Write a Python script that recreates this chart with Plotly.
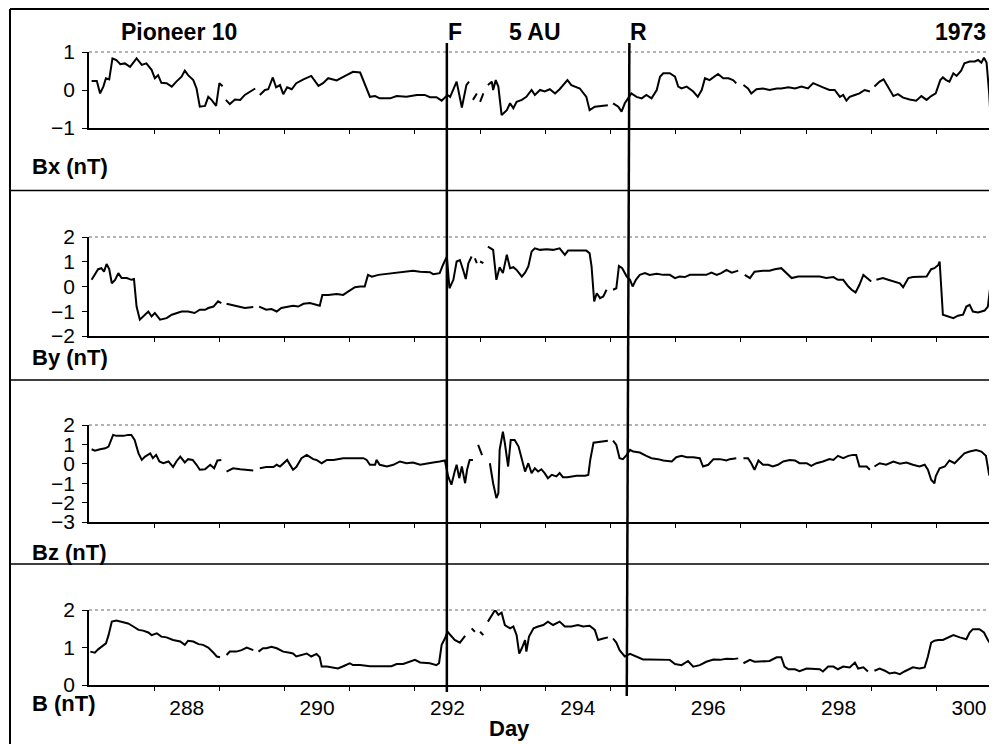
import plotly.graph_objects as go

# ---------------- data ----------------
N = None
day_bx = [286.54,286.62,286.67,286.72,286.76,286.81,286.86,286.92,286.98,287.05,287.13,287.23,287.31,287.38,287.46,287.51,287.56,287.61,287.69,287.77,287.84,287.92,287.97,288.02,288.10,288.15,288.20,288.28,288.33,288.38,288.45,288.50,288.55,
          288.575,
          288.60,288.66,288.74,288.82,288.89,288.97,289.05,
          289.085,
          289.12,289.20,289.25,289.32,289.37,289.43,289.48,289.54,289.61,289.68,289.79,289.91,290.02,290.09,290.17,290.30,290.43,290.55,290.66,290.73,290.81,290.89,290.96,291.12,291.22,291.37,291.53,291.65,291.73,291.83,291.91,292.00,292.04,292.14,292.22,292.29,292.33,
          292.36,
          292.39,292.45,
          292.475,
          292.50,292.55,
          292.585,
          292.62,292.68,292.70,292.74,292.78,292.83,292.91,292.96,293.01,293.06,293.14,293.21,293.29,293.34,293.42,293.49,293.57,293.65,293.72,293.80,293.84,293.90,294.03,294.13,294.18,294.26,294.46,
          294.50,
          294.54,294.62,294.67,294.72,294.77,294.82,294.90,294.98,295.05,295.13,295.21,295.26,295.31,295.41,295.49,295.54,295.59,295.67,295.77,295.84,295.90,295.95,296.02,296.10,296.15,296.23,296.31,296.38,296.43,
          296.48,
          296.54,296.61,296.66,296.74,296.84,296.94,297.05,297.12,297.23,297.33,297.43,297.53,297.61,297.69,297.76,297.86,297.94,298.02,298.07,298.12,298.17,298.25,298.32,298.40,298.48,
          298.52,
          298.55,298.63,298.69,298.76,298.84,298.91,298.99,299.09,299.19,299.27,299.35,299.42,299.49,299.56,299.60,299.65,299.70,299.76,299.81,299.88,299.93,300.01,300.09,300.14,300.19,300.23,300.27,300.31,300.33,300.37,300.39,300.43]
bx = [0.24,0.24,-0.09,0.09,0.31,0.28,0.83,0.79,0.68,0.70,0.61,0.83,0.66,0.70,0.53,0.31,0.39,0.19,0.18,0.09,0.22,0.35,0.51,0.39,0.26,0.04,-0.44,-0.42,-0.18,-0.26,-0.42,0.18,0.10,
      N,
      -0.26,-0.37,-0.25,-0.26,-0.13,-0.04,0.04,
      N,
      -0.13,0.0,0.02,0.33,0.07,0.13,-0.11,0.07,0.02,0.18,0.28,0.37,0.11,0.18,0.31,0.25,0.37,0.48,0.46,0.18,-0.18,-0.16,-0.22,-0.22,-0.16,-0.18,-0.13,-0.13,-0.19,-0.19,-0.28,-0.13,-0.18,0.22,-0.46,0.13,0.22,
      N,
      -0.26,-0.09,
      N,
      -0.31,-0.09,
      N,
      0.13,0.22,0.0,0.26,0.09,-0.66,-0.53,-0.35,-0.48,-0.31,-0.26,-0.18,0.0,-0.13,0.0,-0.04,0.02,-0.09,0.02,0.18,0.26,0.13,0.04,-0.18,-0.53,-0.44,-0.40,
      N,
      -0.35,-0.44,-0.57,-0.35,-0.22,-0.09,-0.18,-0.22,-0.13,-0.22,0.0,0.35,0.44,0.44,0.35,0.09,0.04,0.09,-0.04,-0.18,0.0,0.31,0.26,0.35,0.42,0.31,0.31,0.26,0.18,
      N,
      0.13,0.04,-0.09,0.02,0.04,0.0,0.04,0.04,0.07,0.04,0.09,0.04,0.18,0.11,0.07,0.0,0.0,-0.18,-0.13,-0.28,-0.18,-0.13,-0.09,0.0,-0.04,
      N,
      0.09,0.22,0.28,0.07,-0.16,-0.11,-0.20,-0.25,-0.28,-0.16,-0.26,-0.16,-0.09,0.26,0.33,0.26,0.22,0.44,0.37,0.51,0.70,0.75,0.75,0.79,0.72,0.85,0.72,-0.09,-0.70,-0.70,-0.44,-0.37]

day_by = [286.54,286.59,286.64,286.69,286.73,286.77,286.81,286.85,286.90,286.95,287.00,287.08,287.15,287.19,287.23,287.28,287.36,287.41,287.46,287.51,287.59,287.69,287.77,287.84,287.92,288.02,288.12,288.20,288.28,288.33,288.41,288.48,288.53,
          288.57,
          288.61,288.69,288.76,288.82,288.89,289.02,
          289.06,
          289.11,289.22,289.30,289.38,289.45,289.53,289.63,289.71,289.79,289.89,289.97,290.04,290.08,290.17,290.30,290.40,290.48,290.58,290.66,290.73,290.78,290.84,290.94,291.07,291.22,291.32,291.47,291.58,291.73,291.78,291.88,291.93,291.99,292.03,292.09,292.14,292.19,292.24,292.28,292.32,292.37,
          292.395,
          292.42,292.45,
          292.475,
          292.50,292.55,
          292.585,
          292.62,292.70,292.75,292.80,292.85,292.91,292.96,293.01,293.06,293.14,293.19,293.24,293.29,293.34,293.42,293.52,293.62,293.72,293.80,293.85,293.98,294.13,294.18,294.21,294.25,294.29,294.34,294.39,294.44,
          294.49,
          294.54,294.59,294.63,294.68,294.75,294.80,294.84,294.89,294.95,295.03,295.10,295.21,295.31,295.41,295.49,295.56,295.64,295.72,295.87,295.97,296.05,296.13,296.20,296.28,296.36,296.46,
          296.51,
          296.56,296.64,296.71,296.84,296.94,297.02,297.12,297.20,297.28,297.38,297.51,297.61,297.71,297.81,297.92,297.99,298.07,298.15,298.20,298.26,298.32,298.38,298.43,298.50,
          298.54,
          298.58,298.68,298.76,298.84,298.94,298.99,299.07,299.14,299.24,299.35,299.42,299.47,299.53,299.55,299.60,299.68,299.76,299.83,299.91,299.96,300.01,300.06,300.14,300.24,300.29,300.33,300.37,300.39,300.43]
by = [0.27,0.47,0.70,0.74,0.60,0.91,0.70,0.13,0.27,0.54,0.34,0.34,0.27,0.30,-0.81,-1.34,-1.14,-1.01,-1.21,-1.07,-1.34,-1.28,-1.14,-1.07,-1.01,-1.01,-1.07,-0.94,-0.94,-0.87,-0.81,-0.60,-0.67,
      N,
      -0.70,-0.74,-0.78,-0.81,-0.87,-0.83,
      N,
      -0.81,-0.94,-0.91,-1.01,-0.87,-0.83,-0.78,-0.81,-0.70,-0.67,-0.74,-0.78,-0.34,-0.34,-0.30,-0.34,-0.20,-0.03,0.0,0.0,0.47,0.40,0.47,0.51,0.54,0.60,0.64,0.60,0.58,0.50,0.54,0.87,1.21,-0.07,0.27,1.01,1.07,0.67,0.30,0.94,1.21,
      N,
      1.14,0.94,
      N,
      1.01,0.94,
      N,
      1.61,1.48,0.27,0.78,0.54,1.28,0.74,0.78,0.67,0.40,0.56,0.81,1.41,1.54,1.48,1.50,1.48,1.54,1.28,1.45,1.45,1.45,1.34,0.81,-0.60,-0.27,-0.47,-0.40,-0.13,
      N,
      -0.13,-0.07,0.83,0.74,0.40,0.27,0.0,0.27,0.47,0.54,0.47,0.51,0.47,0.47,0.34,0.40,0.38,0.47,0.47,0.47,0.56,0.47,0.54,0.67,0.56,0.64,
      N,
      0.47,0.34,0.60,0.64,0.64,0.70,0.74,0.54,0.34,0.40,0.40,0.38,0.40,0.34,0.38,0.27,0.27,0.0,-0.13,-0.24,0.07,0.47,0.34,0.20,
      N,
      0.27,0.34,0.27,0.20,0.13,-0.03,0.34,0.38,0.40,0.40,0.70,0.74,0.87,1.01,-1.14,-1.21,-1.28,-1.18,-1.14,-0.81,-0.74,-1.01,-1.05,-0.97,-0.81,0.07,-0.27,-0.87,-0.91]

day_bz = [286.54,286.59,286.67,286.75,286.80,286.83,286.87,286.92,287.03,287.10,287.15,287.20,287.26,287.31,287.36,287.44,287.48,287.53,287.58,287.64,287.72,287.79,287.84,287.90,287.97,288.02,288.09,288.15,288.20,288.28,288.36,288.42,288.47,288.53,
          288.57,
          288.61,288.71,288.82,288.92,289.02,
          289.07,
          289.12,289.22,289.33,289.38,289.43,289.48,289.54,289.63,289.68,289.76,289.84,289.94,289.99,290.07,290.15,290.25,290.40,290.55,290.71,290.76,290.81,290.89,290.91,290.96,291.07,291.17,291.27,291.37,291.47,291.58,291.68,291.78,291.88,291.96,292.01,292.06,292.11,292.14,292.18,292.22,292.27,292.30,292.34,292.39,
          292.43,
          292.47,292.53,
          292.59,
          292.65,292.70,292.75,292.78,292.80,292.85,292.88,292.93,292.97,293.03,293.09,293.14,293.19,293.24,293.29,293.34,293.39,293.44,293.49,293.54,293.60,293.67,293.72,293.77,293.84,293.98,294.11,294.16,294.19,294.24,294.34,294.46,
          294.50,
          294.54,294.59,294.64,294.69,294.75,294.80,294.85,294.95,295.05,295.13,295.23,295.31,295.44,295.51,295.59,295.67,295.77,295.87,295.92,296.00,296.08,296.18,296.28,296.33,296.43,
          296.48,
          296.54,296.61,296.66,296.71,296.77,296.84,296.92,296.99,297.07,297.15,297.25,297.33,297.40,297.51,297.58,297.66,297.76,297.86,297.92,297.99,298.07,298.15,298.22,298.27,298.32,298.38,298.43,298.48,
          298.52,
          298.55,298.63,298.73,298.84,298.94,299.04,299.14,299.24,299.32,299.37,299.42,299.47,299.49,299.55,299.63,299.70,299.78,299.86,299.93,300.01,300.11,300.19,300.26,300.31,300.36,300.39,300.43]
bz = [0.75,0.68,0.75,0.80,0.89,1.14,1.49,1.44,1.44,1.49,1.49,1.23,0.54,0.20,0.37,0.54,0.29,0.46,0.12,0.03,0.12,-0.17,0.12,0.37,0.07,0.24,0.20,-0.05,-0.31,-0.28,-0.05,-0.23,0.17,0.20,
      N,
      -0.40,-0.23,-0.28,-0.31,-0.35,
      N,
      -0.23,-0.17,-0.17,-0.05,-0.14,0.03,0.20,-0.31,-0.17,0.29,0.46,0.24,0.20,0.03,0.20,0.20,0.29,0.29,0.29,0.20,-0.05,-0.05,0.20,-0.05,-0.14,-0.05,0.12,0.03,0.07,-0.05,0.03,0.07,0.12,0.17,-0.65,-1.08,-0.40,-0.05,-0.74,-0.14,-1.00,-0.31,0.20,0.20,
      N,
      0.97,0.45,
      N,
      0.03,-1.00,-1.77,-1.52,0.72,1.66,1.06,-0.14,1.23,1.23,0.89,0.29,-0.40,0.03,-0.48,-0.23,-0.40,-0.28,-0.48,-0.74,-0.57,-0.65,-0.48,-0.69,-0.69,-0.62,-0.62,-0.57,0.20,1.09,1.14,1.19,
      N,
      1.19,0.97,0.29,0.24,0.46,0.72,0.63,0.58,0.41,0.29,0.24,0.17,0.12,0.34,0.41,0.34,0.34,0.29,-0.14,-0.05,0.24,0.24,0.17,0.24,0.29,
      N,
      0.29,0.29,0.03,-0.31,0.17,-0.05,-0.05,-0.14,-0.05,0.12,0.20,0.17,0.03,0.03,-0.11,0.03,0.12,0.24,0.20,0.41,0.29,0.41,0.46,0.46,-0.14,-0.14,-0.14,-0.31,
      N,
      -0.14,0.03,-0.05,0.12,0.0,0.07,-0.05,-0.14,-0.05,-0.31,-0.82,-1.00,-0.65,-0.23,-0.14,0.17,0.03,0.29,0.54,0.63,0.71,0.63,0.41,-0.57,-0.62,-0.31,-0.05]

day_b = [286.52,286.59,286.64,286.69,286.76,286.80,286.85,286.92,287.00,287.10,287.18,287.26,287.33,287.41,287.46,287.54,287.61,287.69,287.79,287.90,287.97,288.02,288.10,288.18,288.25,288.33,288.41,288.46,288.51,
         288.56,
         288.61,288.66,288.76,288.84,288.92,288.99,289.02,
         289.06,
         289.10,289.17,289.22,289.30,289.38,289.48,289.58,289.63,289.68,289.76,289.84,289.91,289.99,290.04,290.07,290.15,290.25,290.32,290.40,290.50,290.55,290.66,290.81,290.91,291.01,291.14,291.22,291.32,291.42,291.50,291.58,291.73,291.83,291.87,291.91,291.96,292.00,292.04,292.11,292.19,292.27,
         292.32,
         292.37,292.42,
         292.46,
         292.50,292.55,
         292.585,
         292.62,292.70,292.73,292.78,292.83,292.88,292.96,293.01,293.06,293.10,293.14,293.19,293.21,293.25,293.32,293.39,293.47,293.54,293.62,293.72,293.80,293.90,294.00,294.08,294.18,294.26,294.31,294.39,294.46,
         294.50,
         294.54,294.59,294.64,294.72,294.80,294.90,295.00,295.10,295.26,295.41,295.49,295.59,295.69,295.77,295.87,295.97,296.08,296.18,296.28,296.38,296.46,
         296.50,
         296.54,296.64,296.71,296.82,296.94,297.05,297.12,297.17,297.23,297.33,297.40,297.51,297.61,297.71,297.76,297.84,297.92,297.99,298.07,298.17,298.25,298.30,298.38,298.45,
         298.50,
         298.55,298.63,298.71,298.78,298.86,298.94,299.01,299.09,299.14,299.24,299.32,299.37,299.42,299.47,299.53,299.60,299.68,299.76,299.86,299.96,300.01,300.06,300.16,300.23,300.29,300.34,300.38,300.43]
b = [0.89,0.86,0.95,1.02,1.11,1.33,1.69,1.72,1.69,1.64,1.56,1.47,1.45,1.40,1.33,1.38,1.29,1.27,1.20,1.16,1.07,1.18,1.16,1.09,1.07,1.00,0.86,0.76,0.74,
     N,
     0.80,0.89,0.89,0.93,1.00,0.95,0.93,
     N,
     0.89,0.98,0.98,1.02,0.98,0.89,0.86,0.84,0.76,0.80,0.84,0.76,0.83,0.74,0.49,0.49,0.47,0.44,0.50,0.58,0.53,0.53,0.50,0.49,0.50,0.50,0.56,0.56,0.62,0.67,0.60,0.58,0.53,0.58,1.07,1.24,1.42,1.33,1.20,1.13,1.31,
     N,
     1.51,1.42,
     N,
     1.42,1.33,
     N,
     1.69,1.91,2.00,1.87,1.93,1.60,1.51,1.56,1.33,0.84,0.98,1.20,0.89,1.29,1.51,1.56,1.60,1.69,1.60,1.69,1.56,1.56,1.60,1.56,1.58,1.47,1.20,1.24,1.27,
     N,
     1.24,1.13,0.93,0.76,0.83,0.76,0.68,0.68,0.68,0.67,0.56,0.53,0.64,0.49,0.53,0.62,0.68,0.67,0.70,0.69,0.71,
     N,
     0.58,0.67,0.62,0.62,0.64,0.74,0.74,0.49,0.42,0.42,0.37,0.44,0.44,0.42,0.36,0.49,0.49,0.42,0.49,0.47,0.60,0.44,0.47,0.36,
     N,
     0.38,0.44,0.38,0.31,0.33,0.29,0.36,0.44,0.47,0.44,0.47,0.76,1.13,1.18,1.20,1.20,1.27,1.33,1.27,1.22,1.40,1.49,1.49,1.40,1.20,1.07,1.13,1.04]

panel_titles = ["Bx (nT)", "By (nT)", "Bz (nT)", "B (nT)"]
y_ranges = [[-1, 1], [-2, 2], [-3, 2], [0, 2]]
y_ticks = [[-1, 0, 1], [-2, -1, 0, 1, 2], [-3, -2, -1, 0, 1, 2], [0, 1, 2]]
x_range = [286.5, 300.43]
x_label_days = [288, 290, 292, 294, 296, 298, 300]
x_tick_days = [287.5, 288.5, 289.5, 290.5, 291.5, 292.5, 293.5, 294.5, 295.5, 296.5, 297.5, 298.5, 299.5]
F_DAY = 291.99
R_DAY_TOP, R_DAY_BOT = 294.79, 294.75

# ---------------- figure ----------------
# the page body adds an 8 px offset; the figure is sized so that it fills the window
OFF = 8
W, H = 997 - OFF, 744 - OFF
def px(x): return (x - OFF) / W
def py(y): return 1 - (y - OFF) / H

FONT = "Liberation Sans, Arial, Helvetica, sans-serif"
boxes = [(52, 128), (237, 336), (425, 522), (610, 685)]   # panel (top, bottom) in window pixels
X0 = 89

fig = go.Figure()
series = [(day_bx, bx), (day_by, by), (day_bz, bz), (day_b, b)]
for i, (d, v) in enumerate(series):
    sfx = "" if i == 0 else str(i + 1)
    fig.add_trace(go.Scatter(x=d, y=v, mode="lines", connectgaps=False,
                             line=dict(color="black", width=2),
                             xaxis="x" + sfx, yaxis="y" + sfx,
                             hoverinfo="skip", showlegend=False))

layout = dict(width=W, height=H, margin=dict(l=0, r=0, t=0, b=0, pad=0, autoexpand=False),
              paper_bgcolor="white", plot_bgcolor="white",
              font=dict(family=FONT, color="black"), showlegend=False)
shapes = []
for i, (top, bot) in enumerate(boxes):
    sfx = "" if i == 0 else str(i + 1)
    last = (i == 3)
    layout["xaxis" + sfx] = dict(
        domain=[px(X0), 1], range=x_range, anchor="y" + sfx, automargin=False,
        showline=True, linecolor="black", linewidth=1.5,
        showgrid=False, zeroline=False,
        tickmode="array", tickvals=x_label_days, ticktext=[str(v) for v in x_label_days],
        ticks="", showticklabels=last, ticklabelstandoff=3,
        tickfont=dict(size=21, family=FONT, color="black"),
        minor=dict(tickmode="array", tickvals=x_tick_days, ticks="outside",
                   ticklen=4, tickwidth=1.2, tickcolor="black", showgrid=False),
        fixedrange=True)
    layout["yaxis" + sfx] = dict(
        domain=[py(bot), py(top)], range=y_ranges[i], anchor="x" + sfx, automargin=False,
        showline=True, linecolor="black", linewidth=1.5,
        showgrid=False, zeroline=False,
        tickmode="array", tickvals=y_ticks[i], ticks="outside", ticklen=5,
        tickwidth=1.2, tickcolor="black", ticklabelstandoff=3,
        tickfont=dict(size=21, family=FONT, color="black"), fixedrange=True)
    shapes.append(dict(type="line", xref="paper", yref="paper",
                       x0=px(X0), x1=1, y0=py(top), y1=py(top),
                       line=dict(color="#666666", width=1.2, dash="dot")))

for ysep in [190.5, 380, 564]:
    shapes.append(dict(type="line", xref="paper", yref="paper",
                       x0=px(10), x1=1, y0=py(ysep), y1=py(ysep),
                       line=dict(color="black", width=1.5)))
shapes.append(dict(type="line", xref="paper", yref="paper",
                   x0=px(10), x1=1, y0=py(9), y1=py(9), line=dict(color="black", width=2)))
shapes.append(dict(type="line", xref="paper", yref="paper",
                   x0=px(10), x1=px(10), y0=0, y1=py(9), line=dict(color="black", width=2)))

shapes.append(dict(type="line", xref="x4", yref="paper", x0=F_DAY, x1=F_DAY,
                   y0=py(692), y1=py(43), line=dict(color="black", width=2.5)))
shapes.append(dict(type="line", xref="x4", yref="paper", x0=R_DAY_BOT, x1=R_DAY_TOP,
                   y0=py(696), y1=py(43), line=dict(color="black", width=2.5)))
layout["shapes"] = shapes

def ann(text, x, y, size, xanchor="center"):
    return dict(text="<b>%s</b>" % text, x=px(x), y=py(y), xref="paper", yref="paper",
                xanchor=xanchor, yanchor="middle", showarrow=False,
                font=dict(size=size, family=FONT, color="black"))

anns = [ann("Pioneer 10", 179, 32, 23), ann("F", 455, 32, 23), ann("5 AU", 535, 32, 23),
        ann("R", 638, 32, 23), ann("1973", 960, 32, 23)]
label_y = [166, 357, 552, 703]
for t, yy in zip(panel_titles, label_y):
    anns.append(ann(t, 30, yy, 22, xanchor="left"))
anns.append(ann("Day", 510, 728, 22))
layout["annotations"] = anns

fig.update_layout(**layout)
fig.write_html("out.html")
